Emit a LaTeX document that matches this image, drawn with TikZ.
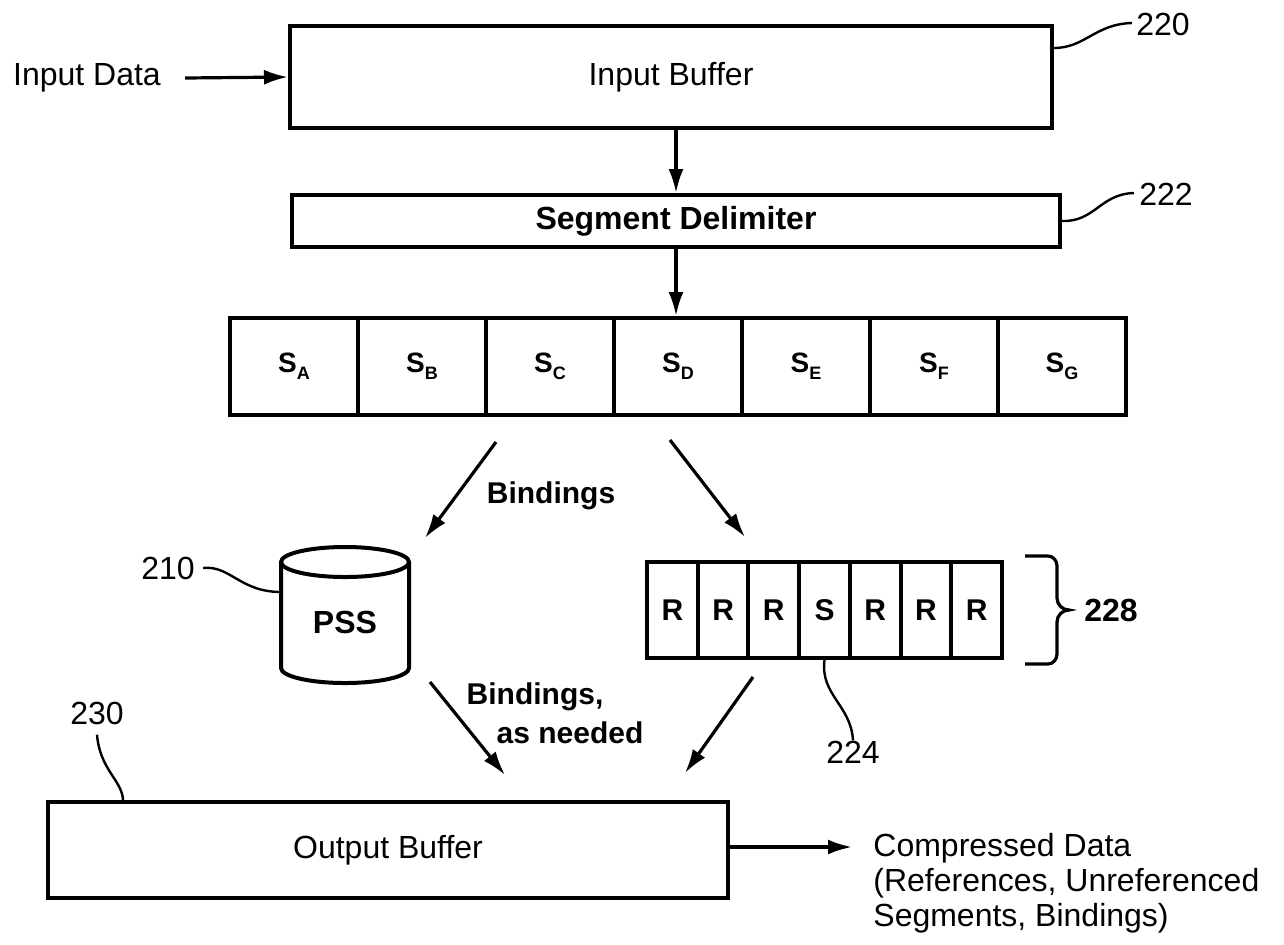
\documentclass[tikz,border=0pt]{standalone}
\usepackage{fontspec}
\setmainfont{Liberation Sans}
\usetikzlibrary{arrows.meta}
\newcommand\subl[1]{\raisebox{-0.45ex}{\fontsize{9}{9}\selectfont\bfseries #1}}
\begin{document}
\begin{tikzpicture}[x=0.5pt,y=-0.5pt,
  box/.style={draw, line width=2pt, inner sep=0pt, font=\fontsize{16}{19}\selectfont},
  cell/.style={draw, line width=2pt, inner sep=0pt, minimum width=64pt, minimum height=48.5pt, font=\fontsize{14}{16}\selectfont\bfseries},
  rcell/.style={draw, line width=2pt, inner sep=0pt, minimum width=25.35pt, minimum height=48pt, font=\fontsize{15}{17}\selectfont\bfseries},
  arr/.style={line width=1.6pt, -{Latex[length=12pt,width=7.5pt]}},
  lead/.style={line width=1.2pt},
  lbl/.style={font=\fontsize{16}{19}\selectfont, inner sep=0pt},
  txt/.style={font=\fontsize{15}{18}\selectfont\bfseries, inner sep=0pt},
]
\useasboundingbox (0,0) rectangle (1284,944);

% Input
\node[lbl] (indata) at (87,78) {Input Data};
\node[box, minimum width=381pt, minimum height=51pt] (inbuf) at (671,77) {Input Buffer};
\draw[arr] (indata.east) ++(12pt,0) coordinate (inA) (inA) -- (inbuf.west);

% Segment delimiter
\node[box, minimum width=384pt, minimum height=26pt, font=\fontsize{16}{19}\selectfont\bfseries] (sd) at (676,221) {Segment Delimiter};
\draw[arr] (sd.north |- inbuf.south) -- (sd.north);

% labels 220 / 222
\node[lbl] (l220) at (1163,24) {220};
\node[lbl] (l222) at (1166,194) {222};
\coordinate (l220w) at (1132,23);
\coordinate (l222w) at (1134,193);
\draw[lead] (inbuf.east |- 0,48) .. controls (1085,48) and (1095,24) .. (l220w);
\draw[lead] (sd.east) .. controls (1095,222) and (1100,194) .. (l222w);

% Segments
\foreach \i/\n/\s in {0/sA/A,1/sB/B,2/sC/C,3/sD/D,4/sE/E,5/sF/F,6/sG/G}
  \node[cell] (\n) at ({294+128*\i},366.5) {S\subl{\s}};
\draw[arr] (sd.south) -- (sd.south |- sD.north);

% Bindings arrows
\coordinate (b1s) at (496,442);
\coordinate (b1e) at (425,538);
\coordinate (b2s) at (670,440);
\coordinate (b2e) at (745,537);
\draw[arr] (b1s) -- (b1e);
\draw[arr] (b2s) -- (b2e);
\node[txt] (bind1) at (551,496) {Bindings};

% PSS cylinder
\draw[line width=2pt] (345,562) ellipse [x radius=32pt, y radius=7.5pt];
\draw[line width=2pt] (281,562) -- (281,668) arc[start angle=180, end angle=360, x radius=32pt, y radius=7.5pt] -- (409,562);
\node[font=\fontsize{16}{19}\selectfont\bfseries, inner sep=0pt] (pss) at (345,622) {PSS};
\node[lbl] (l210) at (168,568) {210};
\coordinate (pssL) at (281,592);
\draw[lead] (l210.east) ++(8,0) coordinate (l210e) (l210e) .. controls (230,565) and (240,592) .. (pssL);

% R/S row
\foreach \i/\l in {0/R,1/R,2/R,3/S,4/R,5/R,6/R}
  \node[rcell] (r\i) at ({672.4+50.7*\i},610) {\l};

% brace 228
\draw[line width=1.6pt] (1025,556) -- (1048,556) to[out=0,in=90] (1057,566) -- (1057,598)
  to[out=-90,in=180] (1069,610) to[out=180,in=90] (1057,622) -- (1057,654)
  to[out=-90,in=0] (1048,664) -- (1025,664);
\node[lbl, font=\fontsize{16}{19}\selectfont\bfseries] (l228) at (1111,610) {228};

% label 224
\node[lbl] (l224) at (853,752) {224};
\draw[lead] (r3.south) .. controls (820,695) and (851,705) .. (l224.north);

% Output arrows
\coordinate (b3s) at (430,682);
\coordinate (b3e) at (505,775);
\coordinate (b4s) at (753,677);
\coordinate (b4e) at (685,773);
\draw[arr] (b3s) -- (b3e);
\draw[arr] (b4s) -- (b4e);
\node[txt] (bind2a) at (535,697) {Bindings,};
\node[txt] (bind2b) at (570,733) {as needed};

% Output buffer
\node[box, minimum width=340pt, minimum height=48pt] (outbuf) at (388,850) {Output Buffer};
\node[lbl] (l230) at (97,713) {230};
\draw[lead] (l230.south) ++(0,10) coordinate (l230s) (l230s) .. controls (100,770) and (122,780) .. (outbuf.north west -| 123,0);

\node[anchor=west, align=left, inner sep=0pt, font=\fontsize{16}{17.5}\selectfont] (comp) at (873,883)
  {Compressed Data\\(References, Unreferenced\\Segments, Bindings)};
\coordinate (compA) at (852,847);
\draw[arr] (outbuf.east |- compA) -- (compA);
\end{tikzpicture}
\end{document}
